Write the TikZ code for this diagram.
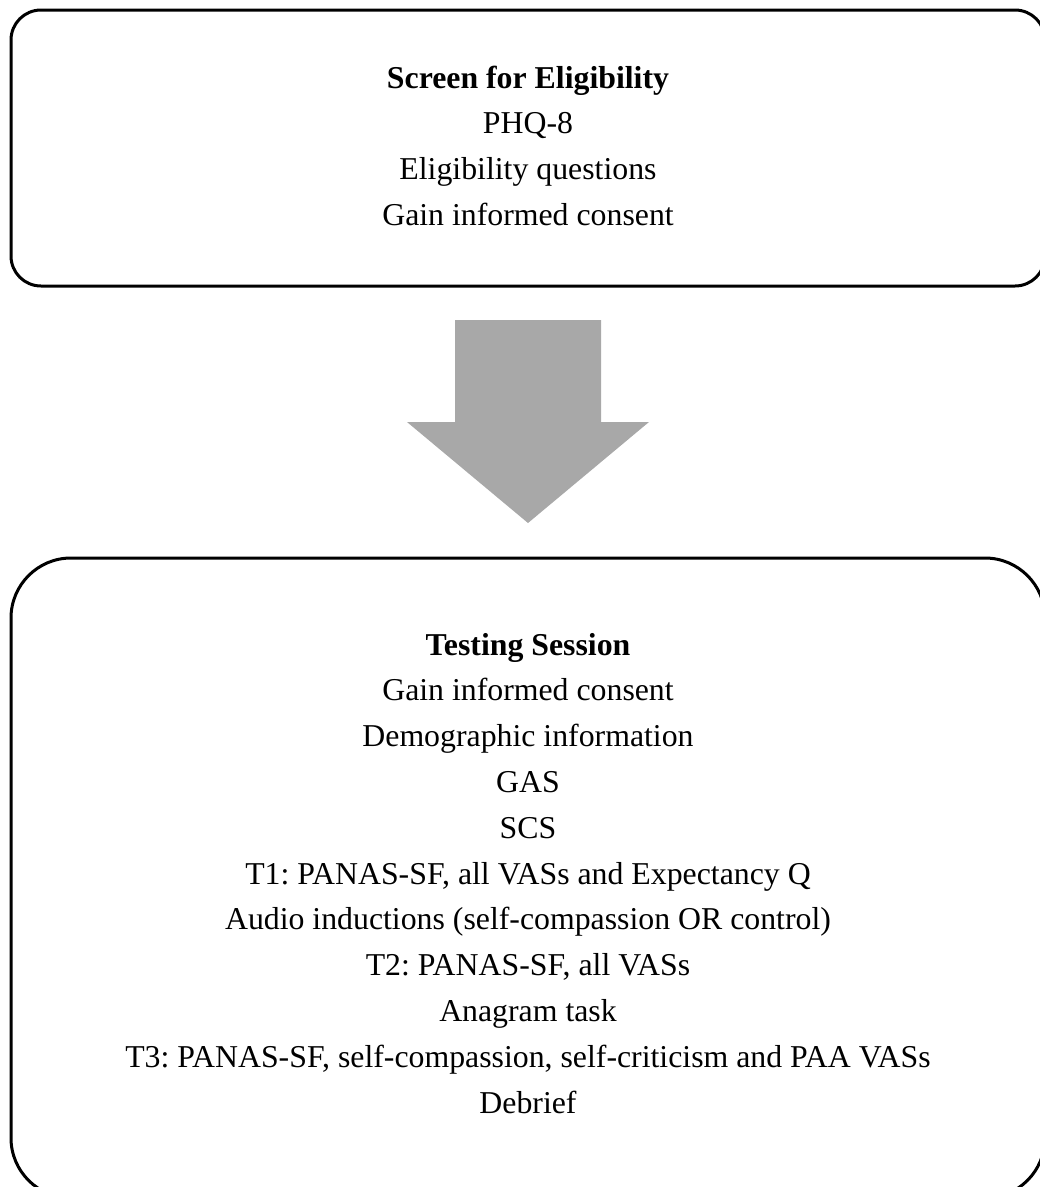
\documentclass[tikz,border=0pt]{standalone}
\usepackage{fontspec}
\setmainfont{Liberation Serif}
\frenchspacing
\begin{document}
\begin{tikzpicture}[x=1pt,y=-1pt,
  box/.style={draw=black, line width=3pt, fill=none, inner sep=0pt, outer sep=0pt},
  txt/.style={align=center, inner sep=0pt, font=\fontsize{31.8}{45.8}\selectfont},
  arrowgray/.style={fill=black!34}]
\useasboundingbox (0,0) rectangle (1040,1187);
\clip (0,0) rectangle (1040,1187);
\node[box, rounded corners=30pt, minimum width=1034pt, minimum height=276pt, anchor=north west] (screen) at (11,10) {};
\node[txt, anchor=base] (screentext) at (528,225.4) {\textbf{Screen for Eligibility}\\PHQ-8\\Eligibility questions\\Gain informed consent};
\fill[arrowgray] (455,320) -- (601,320) -- (601,422) -- (649,422) -- (528,523) -- (407,422) -- (455,422) -- cycle;
\node[box, rounded corners=60pt, minimum width=1034pt, minimum height=640pt, anchor=north west] (testing) at (11,558) {};
\node[txt, anchor=base] (testingtext) at (528,1113) {\textbf{Testing Session}\\Gain informed consent\\Demographic information\\GAS\\SCS\\T1: PANAS-SF, all VASs and Expectancy Q\\Audio inductions (self-compassion OR control)\\T2: PANAS-SF, all VASs\\Anagram task\\T3: PANAS-SF, self-compassion, self-criticism and PAA VASs\\Debrief};
\end{tikzpicture}
\end{document}
